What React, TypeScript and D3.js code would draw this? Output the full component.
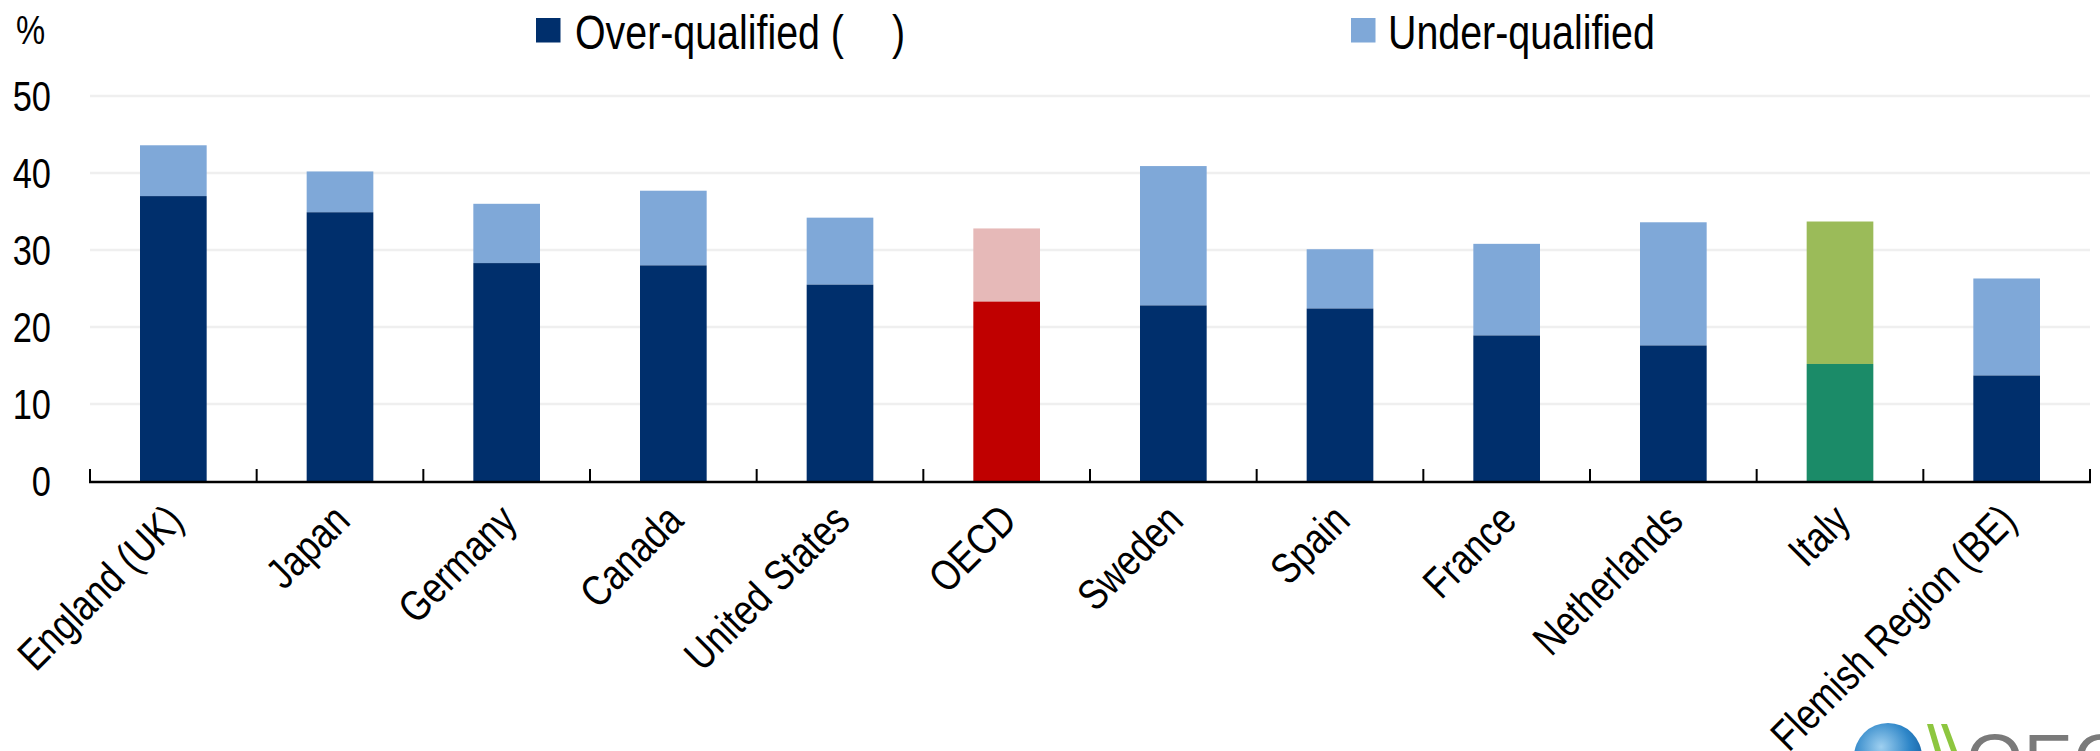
import React from "react";
import * as d3 from "d3";

const categories = [
  "England (UK)", "Japan", "Germany", "Canada", "United States", "OECD",
  "Sweden", "Spain", "France", "Netherlands", "Italy", "Flemish Region (BE)",
];
const overQualified = [37.0, 34.9, 28.3, 28.0, 25.5, 23.3, 22.8, 22.4, 18.9, 17.6, 15.2, 13.7];
const underQualified = [6.6, 5.3, 7.7, 9.7, 8.7, 9.5, 18.1, 7.7, 11.9, 16.0, 18.5, 12.6];
const yTicks = [0, 10, 20, 30, 40, 50];

const W = 2100;
const H = 751;
const FONT = "'Liberation Sans', Arial, sans-serif";
const SX = 0.82;

const overColor = (c: string) => (c === "OECD" ? "#C00000" : c === "Italy" ? "#1B8B68" : "#002F6C");
const underColor = (c: string) => (c === "OECD" ? "#E6B9B8" : c === "Italy" ? "#9BBB59" : "#7FA8D8");

export default function App() {
  const x = d3.scaleBand<string>().domain(categories).range([90, 2090]).paddingInner(0.6).paddingOuter(0.3);
  const y = d3.scaleLinear().domain([0, 50]).range([481, 96]);
  const step = x.step();
  const x0 = 90;

  return (
    <svg width={W} height={H} style={{ position: "absolute", left: 0, top: 0, background: "#fff" }}>
      {/* gridlines */}
      {yTicks.filter((t) => t > 0).map((t) => (
        <line key={t} x1={90} x2={2090} y1={y(t)} y2={y(t)} stroke="#EFEFEF" strokeWidth={2.5} />
      ))}
      {/* bars */}
      {categories.map((c, i) => {
        const bx = x(c)!;
        const bw = x.bandwidth();
        const o = overQualified[i];
        const u = underQualified[i];
        return (
          <g key={c}>
            <rect x={bx} width={bw} y={y(o + u)} height={y(o) - y(o + u)} fill={underColor(c)} />
            <rect x={bx} width={bw} y={y(o)} height={y(0) - y(o)} fill={overColor(c)} />
          </g>
        );
      })}
      {/* axis line + ticks */}
      <line x1={89} x2={2091} y1={y(0) + 1} y2={y(0) + 1} stroke="#000" strokeWidth={2.5} />
      {d3.range(categories.length + 1).map((k) => (
        <line key={k} x1={x0 + k * step} x2={x0 + k * step} y1={y(0)} y2={y(0) - 12} stroke="#000" strokeWidth={2} />
      ))}
      {/* y tick labels */}
      {yTicks.map((t) => (
        <text key={t} transform={`translate(51,${y(t)}) scale(${SX},1)`} textAnchor="end" dy="0.36em"
          fontFamily={FONT} fontSize={42} fill="#000">{t}</text>
      ))}
      <text transform={`translate(16,44) scale(${SX},1)`} fontFamily={FONT} fontSize={40} fill="#000">%</text>
      {/* category labels */}
      {categories.map((c) => {
        const cx = x(c)! + x.bandwidth() / 2;
        return (
          <text key={c} transform={`translate(${cx + 12},${y(0) + 42}) rotate(-45) scale(${SX},1)`}
            textAnchor="end" fontFamily={FONT} fontSize={43} fill="#000">{c}</text>
        );
      })}
      {/* legend */}
      <rect x={536} y={18} width={24.5} height={24.5} fill="#002F6C" />
      <text transform={`translate(575,49) scale(${SX},1)`} fontFamily={FONT} fontSize={48} fill="#000">Over-qualified (</text>
      <text transform={`translate(892,49) scale(${SX},1)`} fontFamily={FONT} fontSize={48} fill="#000">)</text>
      <rect x={1351} y={18} width={24.5} height={24.5} fill="#7FA8D8" />
      <text transform={`translate(1388,49) scale(${SX},1)`} fontFamily={FONT} fontSize={48} fill="#000">Under-qualified</text>
      {/* OECD logo (partially cropped) */}
      <defs>
        <radialGradient id="globe" cx="0.4" cy="0.35" r="0.7">
          <stop offset="0" stopColor="#9FD0F0" />
          <stop offset="0.6" stopColor="#2E86C8" />
          <stop offset="1" stopColor="#135C9E" />
        </radialGradient>
      </defs>
      <circle cx={1888} cy={757} r={34} fill="url(#globe)" />
      <path d="M1927,724 L1933,724 L1941,751 L1935,751 Z" fill="#8DC63F" />
      <path d="M1941,724 L1947,724 L1957,751 L1951,751 Z" fill="#8DC63F" />
      <text x={1966} y={786} fontFamily={FONT} fontSize={74} fill="#7A7A7A">OECD</text>
    </svg>
  );
}
